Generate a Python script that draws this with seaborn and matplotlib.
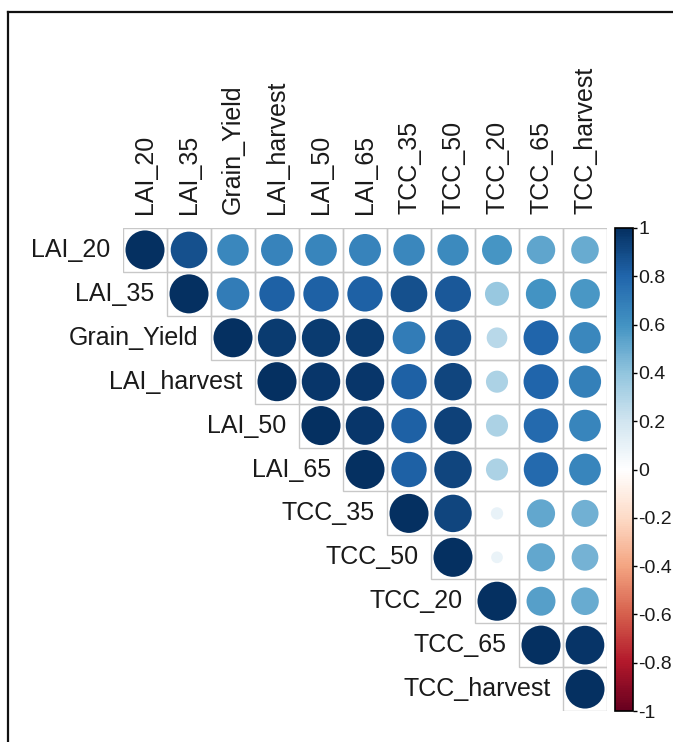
import matplotlib
matplotlib.use("Agg")
import matplotlib.pyplot as plt
import numpy as np
import pandas as pd
import seaborn as sns
from matplotlib.colors import LinearSegmentedColormap, Normalize
from matplotlib.patches import Rectangle
from matplotlib.lines import Line2D

# Variable order (hclust order as in the original figure)
variables = ["LAI_20", "LAI_35", "Grain_Yield", "LAI_harvest", "LAI_50", "LAI_65",
             "TCC_35", "TCC_50", "TCC_20", "TCC_65", "TCC_harvest"]

# Upper triangle of the correlation matrix, one row per variable (diagonal first)
r_LAI_20 = [1.00, 0.88, 0.65, 0.67, 0.66, 0.67, 0.65, 0.64, 0.59, 0.53, 0.50]
r_LAI_35 = [1.00, 0.70, 0.82, 0.82, 0.82, 0.88, 0.85, 0.38, 0.60, 0.58]
r_Grain_Yield = [1.00, 0.96, 0.96, 0.96, 0.70, 0.87, 0.28, 0.80, 0.65]
r_LAI_harvest = [1.00, 0.97, 0.97, 0.82, 0.92, 0.32, 0.80, 0.68]
r_LAI_50 = [1.00, 0.97, 0.82, 0.93, 0.32, 0.78, 0.66]
r_LAI_65 = [1.00, 0.82, 0.92, 0.32, 0.78, 0.66]
r_TCC_35 = [1.00, 0.92, 0.10, 0.52, 0.48]
r_TCC_50 = [1.00, 0.09, 0.52, 0.47]
r_TCC_20 = [1.00, 0.55, 0.50]
r_TCC_65 = [1.00, 0.98]
r_TCC_harvest = [1.00]

upper_rows = [r_LAI_20, r_LAI_35, r_Grain_Yield, r_LAI_harvest, r_LAI_50, r_LAI_65,
              r_TCC_35, r_TCC_50, r_TCC_20, r_TCC_65, r_TCC_harvest]

# long form table
records = []
for i, row in enumerate(upper_rows):
    for k, val in enumerate(row):
        j = i + k
        records.append({"row": i, "col": j, "r": val, "absr": abs(val)})
df = pd.DataFrame(records)

# corrplot RdBu palette
col2 = ["#67001F", "#B2182B", "#D6604D", "#F4A582", "#FDDBC7", "#FFFFFF",
        "#D1E5F0", "#92C5DE", "#4393C3", "#2166AC", "#053061"]
cmap = LinearSegmentedColormap.from_list("corrplot_rdbu", col2, N=256)
norm = Normalize(vmin=-1, vmax=1)

W, H = 673, 742
fig = plt.figure(figsize=(W / 100, H / 100), dpi=100)
fig.patch.set_facecolor("white")

ax = fig.add_axes([123 / W, 1 - 711 / H, 484 / W, 483 / H])
n = len(variables)

# grid around upper triangle cells
for i in range(n):
    for j in range(i, n):
        ax.add_patch(Rectangle((j - 0.5, i - 0.5), 1, 1, facecolor="none",
                               edgecolor="#C8C8C8", linewidth=1.0, zorder=1))

sns.scatterplot(data=df, x="col", y="row", hue="r", palette=cmap, hue_norm=(-1, 1),
                size="absr", sizes=(0, 790), size_norm=(0, 1), linewidth=0,
                legend=False, ax=ax, zorder=2)

ax.set_xlim(-0.5, n - 0.5)
ax.set_ylim(n - 0.5, -0.5)
ax.axis("off")

txt_color = "#1a1a1a"
for i, name in enumerate(variables):
    ax.text(i - 0.5 - 0.28, i, name, ha="right", va="center", fontsize=18,
            family="Liberation Sans", color=txt_color)
    ax.text(i, -0.5 - 0.32, name, ha="center", va="bottom", rotation=90, fontsize=18,
            family="Liberation Sans", color=txt_color)

# colorbar
cax = fig.add_axes([615 / W, 1 - 711 / H, 18 / W, 483 / H])
sm = plt.cm.ScalarMappable(norm=norm, cmap=cmap)
ticks = np.round(np.linspace(-1, 1, 11), 1)
cbar = fig.colorbar(sm, cax=cax, ticks=ticks)
cbar.ax.set_yticklabels(["{:g}".format(t) if t != 0 else "0" for t in ticks],
                        family="Liberation Sans", fontsize=14, color=txt_color)
cbar.ax.tick_params(direction="out", length=3, width=1, pad=1)
cbar.outline.set_linewidth(1.2)

# outer frame of the cropped screenshot: only left and top edges visible
x0, y0 = 7.5 / W, 1 - 11.5 / H
fig.lines.append(Line2D([x0, x0], [0, y0], transform=fig.transFigure,
                        color="#111111", linewidth=1.6))
fig.lines.append(Line2D([x0, 1], [y0, y0], transform=fig.transFigure,
                        color="#111111", linewidth=1.6))

fig.savefig("out.png", dpi=100)
